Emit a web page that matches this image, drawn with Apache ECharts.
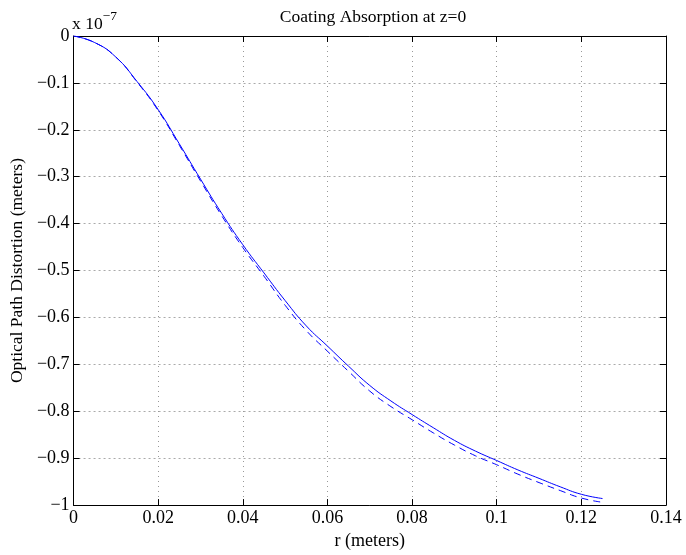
<!DOCTYPE html>
<html><head><meta charset="utf-8">
<script src="https://cdn.jsdelivr.net/npm/echarts@6/dist/echarts.min.js"></script>
<style>html,body{margin:0;padding:0;background:#fff}#c{width:686px;height:555px}</style>
</head><body><div id="c"></div>
<script>
var rValues = [0,0.005,0.01,0.015,0.02,0.025,0.03,0.035,0.04,0.045,0.05,0.055,0.06,0.065,0.07,0.075,0.08,0.085,0.09,0.095,0.1,0.105,0.11,0.115,0.12,0.125];
// units of 1e-7 meters
var solidOPD = [0,-0.014,-0.045,-0.097,-0.157,-0.230,-0.305,-0.378,-0.445,-0.505,-0.564,-0.618,-0.661,-0.704,-0.745,-0.778,-0.807,-0.835,-0.862,-0.885,-0.905,-0.925,-0.943,-0.961,-0.977,-0.986];
var dashedOPD = [0,-0.014,-0.045,-0.098,-0.159,-0.233,-0.309,-0.383,-0.451,-0.512,-0.574,-0.628,-0.672,-0.715,-0.757,-0.790,-0.818,-0.846,-0.872,-0.895,-0.914,-0.934,-0.952,-0.969,-0.985,-0.994];
var xTicks = [0,0.02,0.04,0.06,0.08,0.1,0.12,0.14];
var yTicks = [0,-0.1,-0.2,-0.3,-0.4,-0.5,-0.6,-0.7,-0.8,-0.9,-1];

function pairs(xs, ys){ return xs.map(function(x,i){return [x, ys[i]];}); }
var font = 'Liberation Serif';
var chart = echarts.init(document.getElementById('c'), null, {renderer:'canvas'});
function yFmt(v){ if (Math.abs(v) < 1e-9) return '0'; var s = String(Math.round(Math.abs(v)*10)/10); return '\u2212' + s; }
var tick = {show:true, inside:true, length:6, lineStyle:{color:'#000', width:1}};
var line = {show:true, onZero:false, lineStyle:{color:'#000', width:1}};
chart.setOption({
  animation:false,
  backgroundColor:'#fff',
  title:{text:'Coating Absorption at z=0', left:368, top:3, textAlign:'center',
    textStyle:{fontFamily:font, fontSize:17.5, fontWeight:'normal', color:'#000'}},
  grid:{left:71, top:36, width:595, height:470, show:false},
  xAxis:[
    {type:'value', min:0, max:0.14, interval:0.02, position:'bottom',
     axisLine:line, axisTick:tick,
     axisLabel:{fontFamily:font, fontSize:18, color:'#000', margin:4,
       formatter:function(v){return String(Math.round(v*100)/100);}},
     splitLine:{show:true, lineStyle:{color:'#999', type:[1,4], width:1}},
     name:'r (meters)', nameLocation:'middle', nameGap:23,
     nameTextStyle:{fontFamily:font, fontSize:18, color:'#000'}},
    {type:'value', min:0, max:0.14, interval:0.02, position:'top',
     axisLine:line, axisTick:tick,
     axisLabel:{show:false}, splitLine:{show:false}}
  ],
  yAxis:[
    {type:'value', min:-1, max:0, interval:0.1, position:'left',
     axisLine:line, axisTick:tick,
     axisLabel:{fontFamily:font, fontSize:18, color:'#000', margin:4, formatter:yFmt},
     splitLine:{show:true, lineStyle:{color:'#aaa', type:[2,3], width:1}},
     name:'Optical Path Distortion (meters)', nameLocation:'middle', nameGap:41,
     nameTextStyle:{fontFamily:font, fontSize:17.5, color:'#000'}},
    {type:'value', min:-1, max:0, interval:0.1, position:'right',
     axisLine:line, axisTick:tick,
     axisLabel:{show:false}, splitLine:{show:false}}
  ],
  graphic:[
    {type:'text', left:72, top:9, style:{
      text:'{a|x 10}{b|\u22127}', fontFamily:font,
      rich:{a:{fontFamily:font, fontSize:17.5, fill:'#000', verticalAlign:'bottom'},
            b:{fontFamily:font, fontSize:13.5, fill:'#000', verticalAlign:'top', padding:[0,0,10,0]}}}}
  ],
  series:[
    {type:'line', data:pairs(rValues, solidOPD), showSymbol:false, smooth:true,
     lineStyle:{color:'#0000ff', width:1}, z:3},
    {type:'line', data:pairs(rValues, dashedOPD), showSymbol:false, smooth:true,
     lineStyle:{color:'#0000ff', width:1, type:[7,5]}, z:3}
  ]
});
</script></body></html>
